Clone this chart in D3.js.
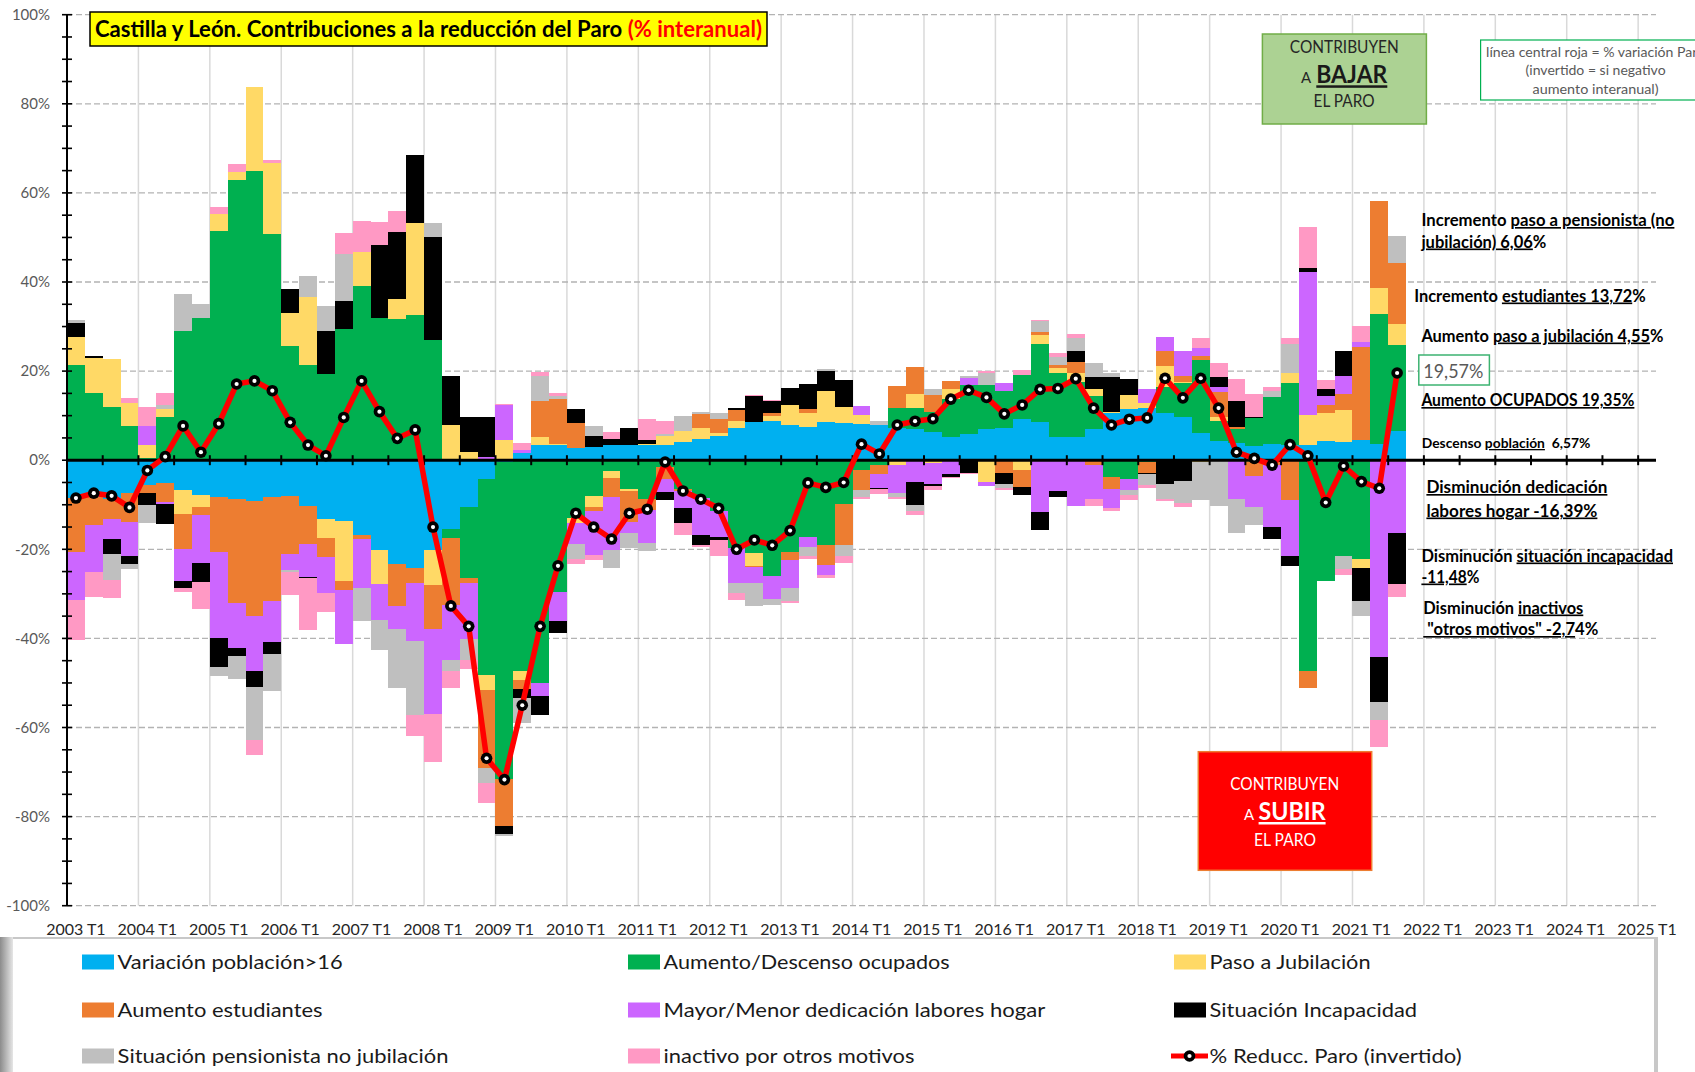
<!DOCTYPE html>
<html><head><meta charset="utf-8">
<script src="https://cdn.jsdelivr.net/npm/d3@7"></script>
<style>
html,body{margin:0;padding:0;background:#fff;}
svg{display:block;font-family:Lato,"Liberation Sans",sans-serif;}
text{white-space:pre;}
</style></head><body>
<svg id="chart" width="1695" height="1072"></svg>
<script>
// ---------- DATA ----------
const years = [2003,2004,2005,2006,2007,2008,2009,2010,2011,2012,2013,2014,2015,2016,2017,2018,2019,2020,2021,2022,2023,2024,2025];
const quarterNames = ["T1","T2","T3","T4"];
const tickLabels = years.map(y => y + " T1");
const lastCategory = "2025 T1";
const nDataQuarters = 75; // 2003 T1 .. 2021 T3

const seriesKeys = ["pob","ocup","jub","est","hogar","incap","pens","otros"];
const seriesNames = ["Variación población>16","Aumento/Descenso ocupados","Paso a Jubilación","Aumento estudiantes","Mayor/Menor dedicación labores hogar","Situación Incapacidad","Situación pensionista no jubilación","inactivo por otros motivos"];
const seriesColors = ["#00b0f0","#00b050","#ffd966","#ed7d31","#cc66ff","#000000","#bfbfbf","#ff99c4"];
const lineName = "% Reducc. Paro (invertido)";

const pob = [-8.5,-8.3,-8.75,-7.4,-5.5,-5.2,-6.7,-7.9,-8.3,-8.75,
-9.1,-8.2,-8.0,-10.2,-13.2,-13.6,-16.9,-20.1,-23.3,-24.2,
-20.1,-15.5,-10.4,-4.3,-0.4,1.6,3.4,3.5,2.8,2.9,
3.4,3.4,3.3,3.3,4.0,4.7,5.5,7.2,8.5,8.9,
7.8,7.4,8.5,8.3,8.1,7.9,7.2,7.0,6.3,5.3,
5.8,7.0,7.2,9.3,8.5,5.3,5.2,7.0,10.5,11.4,
11.7,10.5,9.6,6.1,4.4,3.8,3.1,3.7,3.4,3.4,
4.4,4.0,4.6,3.7,6.57];
const ocup = [21.4,15.0,11.9,7.6,0.4,9.8,28.9,32.0,51.5,62.9,
64.9,50.8,25.7,21.3,19.4,29.4,39.0,32.0,31.7,32.5,
27.0,-2.0,-16.1,-43.9,-71.1,-47.3,-50.0,-29.5,-13.0,-8.0,
-2.4,-6.5,-8.75,-1.5,-6.5,-8.5,-11.3,-19.7,-20.9,-26.1,
-20.7,-17.3,-19.0,-9.8,-2.2,-1.0,4.6,4.8,4.6,8.4,
11.1,9.9,8.4,9.8,17.6,14.2,12.4,7.5,-3.8,-4.3,
-0.5,6.0,7.7,16.3,4.3,3.2,6.3,10.4,14.0,-47.3,
-27.2,-21.5,-22.2,29.1,19.35];
const jub = [6.3,7.9,10.8,5.2,3.0,1.6,-5.3,-2.7,3.8,1.9,
18.9,15.8,7.4,15.4,-4.3,-13.5,7.8,-7.6,4.5,20.7,
-8.0,7.9,1.9,-3.3,4.6,-2.0,1.9,0.2,-1.0,-2.4,
-1.6,-0.5,0.4,2.2,2.6,2.5,0.7,1.7,-2.8,1.0,
4.5,3.1,7.1,3.7,2.1,0,-1.0,3.0,-0.7,2.2,
0,-5.0,0,-2.3,2.1,1.2,1.9,1.4,0.4,3.3,
1.1,4.7,0.2,-0.4,1.1,0,-0.5,0,2.1,6.8,
6.1,7.3,-2.0,5.8,4.55];
const est = [-12.1,-6.2,-4.4,-6.4,-1.8,-4.1,-7.9,-1.8,-12.3,-23.3,
-25.8,-23.4,-13.0,-8.6,-4.3,-2.0,-0.8,0,-9.4,-3.4,
-9.7,-15.0,-1.1,-17.6,-10.6,-2.1,8.1,10.1,5.5,-0.9,
-4.3,-6.8,-2.4,-2.7,-0.5,3.2,3.0,2.4,-0.2,0.6,
-1.7,1.0,-4.5,-9.2,-4.5,-2.1,4.9,6.2,3.8,1.9,
0,0,-2.9,-3.8,0.6,0.7,2.5,-1.0,-2.7,0,
-2.3,3.4,1.3,1.1,5.6,0.4,-3.0,-1.0,-8.9,-3.9,
1.9,3.6,20.8,19.6,13.72];
const hogar = [-10.7,-10.5,-4.5,-7.6,4.3,-0.5,-7.2,-10.7,-19.3,-10.2,
-12.4,-9.2,-3.6,-7.5,-8.0,-12.2,-10.9,-8.1,-5.2,-12.9,
-19.1,-12.3,-12.6,0.8,7.8,0.7,-2.9,-6.7,-4.7,-9.9,
-11.8,-2.6,-7.5,-3.0,-3.7,-8.3,-6.0,-7.9,-3.7,-5.1,
-6.3,-2.2,-2.2,0,2.0,-3.2,-6.3,-5.0,-4.7,-3.1,
1.6,-0.9,1.7,0,-11.7,-7.0,-10.2,-7.7,-4.3,-2.4,
3.1,3.0,5.6,1.6,1.0,-8.75,-7.1,-13.9,-12.6,32.1,
2.0,4.1,1.2,-44.1,-16.39];
const incap = [3.2,0.4,-3.3,-1.9,-2.7,-4.6,-1.5,-4.3,-6.5,-1.6,
-3.5,-2.6,5.4,-0.2,9.5,6.4,0,16.3,15.1,15.3,
23.2,11.0,7.9,8.8,-1.7,-1.9,-4.2,-2.5,3.2,2.6,
1.4,3.9,0.9,-1.8,-3.5,-2.2,-0.6,0.4,6.0,2.7,
3.8,5.6,4.4,5.9,-0.1,-0.2,0,-5.0,-0.5,-0.6,
-2.8,0,-2.4,-1.7,-3.9,-1.2,2.5,2.7,7.7,3.5,
-0.2,-5.3,-4.6,0,2.2,5.8,0.4,-2.7,-2.2,0.9,
1.6,5.5,-7.5,-10.1,-11.48];
const pens = [0.6,-0.2,-5.9,-1.2,-4.1,1.0,8.3,3.1,-2.1,-5.2,
-12.0,-8.5,-0.4,4.7,5.7,10.5,-7.4,-6.9,-13.3,-16.6,
3.0,-2.6,-4.6,-3.4,-0.6,-5.6,5.4,0.6,-3.4,2.1,
-4.1,-3.3,-1.7,0.4,3.3,0.4,1.5,-2.2,-5.2,-1.3,
-3.0,-2.1,0.4,-2.6,-1.4,0.9,-1.0,-1.3,1.2,0,
0.4,2.6,-1.0,0,2.4,1.7,3.0,3.2,0.9,-1.1,
-2.6,-3.5,-5.0,-8.6,-10.2,-7.6,-3.9,1.5,6.6,0,
0,-3.0,-3.2,-4.1,6.06];
const otros = [-9.0,-5.4,-4.1,1.1,4.2,2.6,-0.9,-6.0,1.5,1.6,
-3.3,0.7,-5.2,-11.7,-4.2,4.7,7.0,5.1,4.7,-4.7,
-10.9,-3.8,-2.1,-4.5,0.2,1.5,0.9,0.6,-1.1,-1.3,
1.6,0,4.7,2.9,-2.5,-0.5,-3.6,-1.5,0.2,0.3,
-0.4,-0.5,-0.8,-1.4,-0.5,-1.1,-0.5,-1.0,-0.8,-0.3,
-0.3,0.6,-0.5,1.2,0.3,0.9,0.9,-1.5,-0.7,-1.1,
-0.7,-0.3,-0.9,2.3,3.3,5.0,5.1,0.8,1.3,9.1,
2.0,-1.2,3.5,-6.1,-2.74];
const reduccParo = [-8.5,-7.4,-8.0,-10.6,-2.3,0.8,7.7,1.8,8.2,17.1,
17.8,15.6,8.5,3.4,1.0,9.6,17.8,10.9,4.9,6.8,
-15.0,-32.7,-37.3,-66.9,-71.7,-55.0,-37.3,-23.7,-11.9,-15.0,
-17.7,-11.9,-11.0,-0.4,-6.9,-8.75,-10.8,-20.0,-17.9,-19.1,
-15.8,-5.1,-6.1,-5.0,3.6,1.4,7.9,8.75,9.3,13.7,
15.7,14.1,10.4,12.4,15.9,16.1,18.3,11.7,7.9,9.2,
9.5,18.4,14.0,18.4,11.7,1.8,0.4,-1.1,3.5,1.0,
-9.5,-1.3,-4.8,-6.3,19.57];
const yTicks = [100,80,60,40,20,0,-20,-40,-60,-80,-100];

// ---------- BUILD ----------
const seriesData = {pob, ocup, jub, est, hogar, incap, pens, otros};
const allCats = [];
years.forEach(y => quarterNames.forEach(q => allCats.push(y + " " + q)));
const cats = allCats.slice(0, allCats.indexOf(lastCategory) + 1);
const dataCats = cats.slice(0, nDataQuarters);
const rows = dataCats.map((c, i) => {
  const r = {cat: c};
  seriesKeys.forEach(k => r[k] = seriesData[k][i]);
  return r;
});

const svg = d3.select("#chart");
const x = d3.scaleBand().domain(cats).range([67, 1656]).padding(0);
const y = d3.scaleLinear().domain([-100, 100]).range([905.7, 14.7]);
const bw = x.bandwidth();

// gridlines
const grid = svg.append("g");
grid.selectAll("line.v").data(tickLabels.slice(1)).join("line")
  .attr("x1", d => x(d)).attr("x2", d => x(d))
  .attr("y1", y(100)).attr("y2", y(-100))
  .attr("stroke", "#d9d9d9").attr("stroke-width", 1.5);
grid.selectAll("line.h").data(yTicks.filter(v => v !== 0)).join("line")
  .attr("x1", 67).attr("x2", 1656)
  .attr("y1", d => y(d)).attr("y2", d => y(d))
  .attr("stroke", "#b3b3b3").attr("stroke-width", 1.3).attr("stroke-dasharray", "6,3");

// stacked bars
const stack = d3.stack().keys(seriesKeys).offset(d3.stackOffsetDiverging)(rows);
const bars = svg.append("g").attr("shape-rendering", "crispEdges");
stack.forEach((layer, li) => {
  bars.append("g").attr("fill", seriesColors[li])
    .selectAll("rect").data(layer.filter(d => d[1] !== d[0])).join("rect")
    .attr("x", d => x(d.data.cat))
    .attr("width", bw)
    .attr("y", d => y(Math.max(d[0], d[1])))
    .attr("height", d => Math.abs(y(d[0]) - y(d[1])));
});

// y axis
const yAxisG = svg.append("g");
yAxisG.append("line").attr("x1", 67).attr("x2", 67).attr("y1", y(100)).attr("y2", y(-100))
  .attr("stroke", "#000").attr("stroke-width", 2);
yAxisG.selectAll("line.t").data(d3.range(-100, 101, 5)).join("line")
  .attr("x1", 62).attr("x2", 72).attr("y1", d => y(d)).attr("y2", d => y(d))
  .attr("stroke", "#000").attr("stroke-width", 1.6);
yAxisG.selectAll("text").data(yTicks).join("text")
  .attr("x", 50).attr("y", d => y(d)).attr("dy", "0.35em")
  .attr("text-anchor", "end").attr("font-size", 15).attr("fill", "#595959")
  .text(d => d + "%");

// zero line + category ticks
const zG = svg.append("g");
zG.append("line").attr("x1", 67).attr("x2", 1656).attr("y1", y(0)).attr("y2", y(0))
  .attr("stroke", "#000").attr("stroke-width", 3);
zG.selectAll("line.t").data(cats.filter((c, i) => i % 2 === 0 && i > 0)).join("line")
  .attr("x1", d => x(d)).attr("x2", d => x(d))
  .attr("y1", y(0) - 5).attr("y2", y(0) + 5)
  .attr("stroke", "#000").attr("stroke-width", 2);

// x labels
svg.append("g").selectAll("text").data(tickLabels).join("text")
  .attr("x", d => x(d) + bw / 2).attr("y", 935)
  .attr("text-anchor", "middle").attr("font-size", 16).attr("fill", "#262626")
  .text(d => d);

// line
const lineData = dataCats.map((c, i) => ({cat: c, v: reduccParo[i]}));
svg.append("path").datum(lineData)
  .attr("d", d3.line().x(d => x(d.cat) + bw / 2).y(d => y(d.v)))
  .attr("fill", "none").attr("stroke", "#ff0000").attr("stroke-width", 5.5).attr("stroke-linejoin", "round");
const mk = svg.append("g");
mk.selectAll("circle.o").data(lineData).join("circle")
  .attr("cx", d => x(d.cat) + bw / 2).attr("cy", d => y(d.v)).attr("r", 5.8).attr("fill", "#000");
mk.selectAll("circle.i").data(lineData).join("circle")
  .attr("cx", d => x(d.cat) + bw / 2).attr("cy", d => y(d.v)).attr("r", 2.1).attr("fill", "#fff");

// ---------- TEXT HELPERS ----------
function label(parent, xx, yy, parts, o) {
  const t = parent.append("text").attr("x", xx).attr("y", yy)
    .attr("font-size", o.size || 16).attr("font-weight", o.weight || "normal")
    .attr("fill", o.fill || "#000").attr("text-anchor", o.anchor || "start");
  if (typeof parts === "string") parts = [{t: parts}];
  parts.forEach(p => {
    const ts = t.append("tspan").text(p.t);
    if (p.u) ts.style("text-decoration", "underline");
    if (p.fill) ts.attr("fill", p.fill);
    if (p.size) ts.attr("font-size", p.size);
    if (p.weight) ts.attr("font-weight", p.weight);
  });
  if (o.width) t.attr("textLength", o.width).attr("lengthAdjust", "spacingAndGlyphs");
  return t;
}

const ann = svg.append("g");
// title
ann.append("rect").attr("x", 90).attr("y", 12).attr("width", 677).attr("height", 34)
  .attr("fill", "#ffff00").attr("stroke", "#000").attr("stroke-width", 1.5);
label(ann, 95, 37, [{t: "Castilla y León. Contribuciones a la reducción del Paro "}, {t: "(% interanual)", fill: "#ff0000"}],
  {size: 23, weight: "bold", width: 667});

// green box
ann.append("rect").attr("x", 1262.4).attr("y", 34).attr("width", 164).attr("height", 90)
  .attr("fill", "#acd293").attr("stroke", "#70ad47").attr("stroke-width", 1.5);
label(ann, 1344.3, 52.7, "CONTRIBUYEN", {size: 17, fill: "#262626", anchor: "middle", width: 109});
label(ann, 1301, 83.3, "A", {size: 15, fill: "#262626"});
label(ann, 1316.3, 83.3, [{t: "BAJAR", u: 1}], {size: 25, weight: "bold", fill: "#1a1a1a", width: 71});
label(ann, 1344, 107.3, "EL PARO", {size: 17, fill: "#262626", anchor: "middle", width: 61});

// note box (clipped by the page edge, as in the original)
ann.append("rect").attr("x", 1480.6).attr("y", 40).attr("width", 240).attr("height", 60)
  .attr("fill", "#fff").attr("stroke", "#00b050").attr("stroke-width", 1.2);
label(ann, 1595.6, 57.3, "línea central roja = % variación Paro", {size: 14, fill: "#595959", anchor: "middle", width: 219});
label(ann, 1595.6, 75, "(invertido = si negativo", {size: 14, fill: "#595959", anchor: "middle", width: 140});
label(ann, 1595.6, 94, "aumento interanual)", {size: 14, fill: "#595959", anchor: "middle", width: 126});

// red box
ann.append("rect").attr("x", 1198.3).attr("y", 751.7).attr("width", 173.4).attr("height", 118.6)
  .attr("fill", "#ff0000").attr("stroke", "#ed7d31").attr("stroke-width", 1.5);
label(ann, 1284.7, 790, "CONTRIBUYEN", {size: 17, fill: "#fff", anchor: "middle", width: 109});
label(ann, 1244, 820, "A", {size: 15, fill: "#fff"});
label(ann, 1258.6, 820, [{t: "SUBIR", u: 1}], {size: 25, weight: "bold", fill: "#fff", width: 67});
label(ann, 1285, 845.7, "EL PARO", {size: 17, fill: "#fff", anchor: "middle", width: 62});

// 19,57% box
ann.append("rect").attr("x", 1418.8).attr("y", 355).attr("width", 70.6).attr("height", 30)
  .attr("fill", "#fff").attr("stroke", "#3cb371").attr("stroke-width", 1.5);
label(ann, 1423.3, 377.5, "19,57%", {size: 19, fill: "#595959", width: 60});

// right annotations
const notes = [
  {x: 1421.4, y: 226, parts: [{t: "Incremento "}, {t: "paso a pensionista (no", u: 1}], w: 253},
  {x: 1421.4, y: 247.5, parts: [{t: "jubilación) 6,06", u: 1}, {t: "%"}], w: 125},
  {x: 1414.2, y: 301.5, parts: [{t: "Incremento "}, {t: "estudiantes 13,72", u: 1}, {t: "%"}], w: 231.5},
  {x: 1421.4, y: 341.5, parts: [{t: "Aumento "}, {t: "paso a jubilación 4,55", u: 1}, {t: "%"}], w: 242},
  {x: 1421.4, y: 406, parts: [{t: "Aumento OCUPADOS 19,35%", u: 1}], w: 213},
  {x: 1421.8, y: 448, parts: [{t: "Descenso "}, {t: "población", u: 1}, {t: "  6,57%"}], w: 168.5, size: 13},
  {x: 1426.4, y: 493, parts: [{t: "Disminución dedicación", u: 1}], w: 181},
  {x: 1426.4, y: 516.5, parts: [{t: "labores hogar -16,39%", u: 1}], w: 171},
  {x: 1421.4, y: 561.5, parts: [{t: "Disminución "}, {t: "situación incapacidad", u: 1}], w: 251.6},
  {x: 1421.4, y: 582.5, parts: [{t: "-11,48", u: 1}, {t: "%"}], w: 58},
  {x: 1423.3, y: 613.5, parts: [{t: "Disminución "}, {t: "inactivos", u: 1}], w: 160},
  {x: 1423.3, y: 635, parts: [{t: " \"otros motivos\" -2,7", u: 1}, {t: "4%"}], w: 175}
];
notes.forEach(n => label(ann, n.x, n.y, n.parts, {size: n.size || 16.5, weight: "bold", fill: "#000", width: n.w}));

// ---------- LEGEND ----------
const lg = svg.append("g");
const defs = svg.append("defs");
const grad = defs.append("linearGradient").attr("id", "lgShade").attr("x1", 0).attr("x2", 1).attr("y1", 0).attr("y2", 0);
grad.append("stop").attr("offset", 0).attr("stop-color", "#8c8c8c");
grad.append("stop").attr("offset", 1).attr("stop-color", "#e6e6e6");
lg.append("rect").attr("x", 0).attr("y", 937).attr("width", 1658).attr("height", 140).attr("fill", "#c8c8c8");
lg.append("rect").attr("x", 0).attr("y", 937).attr("width", 13).attr("height", 140).attr("fill", "url(#lgShade)");
lg.append("rect").attr("x", 13).attr("y", 939).attr("width", 1641).attr("height", 140).attr("fill", "#fff");

const legendItems = seriesNames.map((n, i) => ({name: n, color: seriesColors[i], type: "bar"}));
legendItems.push({name: lineName, color: "#ff0000", type: "line"});
const colX = [82, 628, 1174];
const rowY = [962, 1010, 1056];
const textW = [225, 286, 161, 205, 381.6, 207.5, 330.8, 250.8, 252];
legendItems.forEach((it, i) => {
  const cx = colX[i % 3], cy = rowY[Math.floor(i / 3)];
  if (it.type === "bar") {
    lg.append("rect").attr("x", cx).attr("y", cy - 7.5).attr("width", 32).attr("height", 15).attr("fill", it.color);
  } else {
    lg.append("line").attr("x1", cx - 3).attr("x2", cx + 34).attr("y1", cy).attr("y2", cy)
      .attr("stroke", "#ff0000").attr("stroke-width", 5);
    lg.append("circle").attr("cx", cx + 15.5).attr("cy", cy).attr("r", 5.8).attr("fill", "#000");
    lg.append("circle").attr("cx", cx + 15.5).attr("cy", cy).attr("r", 2.1).attr("fill", "#fff");
  }
  label(lg, cx + 35.6, cy + 7, it.name, {size: 20, fill: "#1a1a1a", width: textW[i]});
});
</script>
</body></html>
